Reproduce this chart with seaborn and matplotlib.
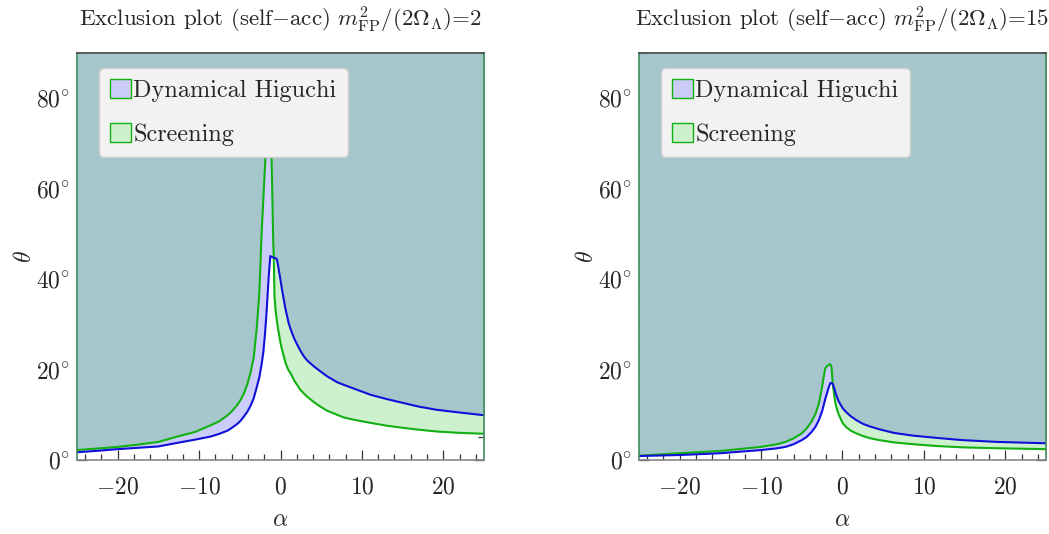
import numpy as np
import pandas as pd
import matplotlib
matplotlib.use("Agg")
import matplotlib.pyplot as plt
import seaborn as sns
from matplotlib.patches import Patch
from matplotlib.ticker import MultipleLocator, FuncFormatter

# ---------------- data ----------------
alpha_left = [-25, -22, -20, -17.5, -15, -12.65, -10.5, -8.55, -7.5, -6.5, -5.9, -5.3, -4.9,
              -4.5, -4.1, -3.7, -3.3, -2.9, -2.6, -2.3, -2.1, -1.9, -1.7, -1.45, -1.25,
              -1.1, -0.9, -0.82, -0.74, -0.6, -0.45, -0.3, 0, 0.2, 0.41, 0.6, 0.82, 1.0,
              1.23, 1.43, 1.7, 2.05, 2.4, 2.87, 3.28, 4.1, 4.9, 5.73, 6.96, 7.8, 9.0,
              11.1, 13, 15.1, 17, 19.2, 22, 25]
higuchi_left = [1.7, 2.1, 2.4, 2.7, 3.0, 3.8, 4.5, 5.2, 5.8, 6.5, 7.2, 8.0, 8.7,
                9.6, 10.6, 11.9, 13.6, 16.2, 18.3, 21.4, 24, 28, 33, 40.5, 45.1,
                44.9, 44.8, 44.7, 44.7, 44.6, 44.4, 43, 39.8, 37.5, 35.4, 33.5, 31.7, 30.3,
                29, 28, 26.8, 25.5, 24.3, 22.9, 22, 20.7, 19.6, 18.5, 17.2, 16.6, 15.8,
                14.4, 13.5, 12.6, 11.8, 11.1, 10.5, 9.9]
screening_left = [2.2, 2.6, 2.9, 3.4, 4.0, 5.2, 6.2, 7.7, 8.6, 9.9, 10.9, 12.2, 13.3,
                  14.7, 16.6, 19.2, 22.5, 29.5, 37, 51, 58, 65, 74, 85, 80,
                  67, 49, 44.3, 36.2, 33, 30.8, 29, 25.9, 24.3, 22.9, 21.6, 20.5, 19.8,
                  19.2, 18.5, 17.5, 16.6, 15.6, 14.7, 14.0, 12.8, 11.8, 10.9, 10.0, 9.4, 8.9,
                  8.2, 7.6, 7.1, 6.7, 6.3, 6.0, 5.8]

alpha_right = [-25, -20, -15, -10, -8, -7, -6, -5, -4.4, -3.8, -3.3, -2.9, -2.5, -2.3,
               -2.1, -1.9, -1.7, -1.5, -1.35, -1.2, -1.0, -0.78, -0.5, -0.2, 0.04, 0.5,
               1.0, 1.67, 2.5, 3.4, 4.5, 6.3, 8.6, 11.5, 14.7, 19, 25]
higuchi_right = [0.88, 1.1, 1.5, 2.2, 2.6, 2.9, 3.5, 4.4, 5.1, 6.2, 7.4, 8.85, 10.8, 12.2,
                 13.6, 14.8, 16, 17, 17, 16.9, 15.8, 14.4, 13.1, 12.1, 11.4, 10.5,
                 9.7, 8.85, 8.0, 7.4, 6.8, 6.0, 5.4, 4.9, 4.4, 4.0, 3.7]
screening_right = [0.95, 1.5, 2.0, 2.9, 3.5, 4.0, 4.8, 5.9, 7.0, 8.5, 10.3, 12.5, 16.2, 18.5,
                   20.3, 20.8, 21.0, 21.2, 20.5, 16.9, 14, 11.8, 10.2, 9.0, 8.1, 7.2,
                   6.5, 5.9, 5.3, 4.8, 4.4, 3.9, 3.5, 3.1, 2.8, 2.6, 2.4]

titles = [r"Exclusion plot (self$-$acc) $m^2_{\mathrm{FP}}/(2\Omega_\Lambda)$=2",
          r"Exclusion plot (self$-$acc) $m^2_{\mathrm{FP}}/(2\Omega_\Lambda)$=15"]
legend_labels = ["Dynamical Higuchi", "Screening"]
x_ticks = [-20, -10, 0, 10, 20]
y_ticks = [0, 20, 40, 60, 80]

# ---------------- style ----------------
sns.set_theme(style="ticks")
plt.rcParams["font.family"] = ["cmr10", "DejaVu Serif"]
plt.rcParams["mathtext.fontset"] = "cm"
plt.rcParams["axes.formatter.use_mathtext"] = True
plt.rcParams["axes.unicode_minus"] = False

blue_line = "#1010d8"
green_line = "#12b012"
lav_fill = "#ccccf8"
green_fill = "#cdf0cd"
teal_fill = "#a5c7cc"

fig = plt.figure(figsize=(10.49, 5.34), dpi=100)
ax_l = fig.add_axes([77 / 1049, 74 / 534, 407 / 1049, 407 / 534])
ax_r = fig.add_axes([639 / 1049, 74 / 534, 407 / 1049, 407 / 534])

panels = [
    (ax_l, alpha_left, higuchi_left, screening_left, titles[0]),
    (ax_r, alpha_right, higuchi_right, screening_right, titles[1]),
]

for ax, a, hb, sb, title in panels:
    df = pd.DataFrame({"alpha": a, "higuchi": hb, "screening": sb})
    top = np.full(len(a), 90.0)
    both = np.maximum(df["higuchi"].values, df["screening"].values)
    ax.fill_between(df["alpha"], df["higuchi"], top, color=lav_fill, lw=0, zorder=1)
    ax.fill_between(df["alpha"], df["screening"], top, color=green_fill, lw=0, zorder=1)
    ax.fill_between(df["alpha"], both, top, color=teal_fill, lw=0, zorder=1.1)
    sns.lineplot(data=df, x="alpha", y="screening", ax=ax, color=green_line, lw=1.5,
                 sort=False, estimator=None, zorder=3)
    sns.lineplot(data=df, x="alpha", y="higuchi", ax=ax, color=blue_line, lw=1.5,
                 sort=False, estimator=None, zorder=3)

    ax.set_xlim(-25, 25)
    ax.set_ylim(0, 90)
    ax.set_xticks(x_ticks)
    ax.set_yticks(y_ticks)
    ax.xaxis.set_minor_locator(MultipleLocator(2))
    ax.yaxis.set_minor_locator(MultipleLocator(5))
    ax.xaxis.set_major_formatter(FuncFormatter(lambda v, p: r"$%d$" % v))
    ax.yaxis.set_major_formatter(FuncFormatter(lambda v, p: r"$%d^{\circ}$" % v))
    ax.tick_params(which="both", direction="in", top=True, right=True, labelsize=17,
                   color="#333333", width=0.9)
    ax.tick_params(axis="x", which="major", pad=12)
    ax.tick_params(axis="y", which="major", pad=5)
    ax.tick_params(which="major", length=7)
    ax.tick_params(which="minor", length=4)
    ax.set_xlabel(r"$\alpha$", fontsize=17, labelpad=7)
    ax.set_ylabel(r"$\theta$", fontsize=17, labelpad=0)
    ax.set_title(title, fontsize=16.5, pad=19)
    ax.spines["left"].set_color("#3f8a5a")
    ax.spines["right"].set_color("#3f8a5a")
    ax.spines["top"].set_color("#444444")
    ax.spines["bottom"].set_color("#888888")
    for s in ax.spines.values():
        s.set_linewidth(1.2)
        s.set_zorder(4)

    handles = [Patch(facecolor=lav_fill, edgecolor=green_line, lw=1.0),
               Patch(facecolor=green_fill, edgecolor=green_line, lw=1.0)]
    leg = ax.legend(handles, legend_labels, loc="upper left",
                    bbox_to_anchor=(0.054, 0.963), fontsize=17.5, frameon=True,
                    fancybox=True, framealpha=1, facecolor="#f2f2f2",
                    edgecolor="#cfcfcf", handlelength=0.85, handleheight=0.85,
                    handletextpad=0.12, labelspacing=0.85, borderpad=0.45,
                    borderaxespad=0)
    leg.set_zorder(5)

fig.savefig("out.png", dpi=100)
